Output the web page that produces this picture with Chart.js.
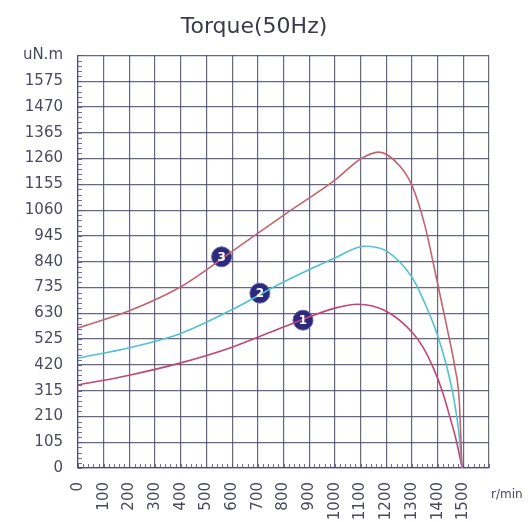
<!DOCTYPE html>
<html>
<head>
<meta charset="utf-8">
<script src="https://cdn.jsdelivr.net/npm/chart.js@4.4.1/dist/chart.umd.min.js"></script>
<style>
    html, body { margin: 0; padding: 0; background: #ffffff; }
    #wrap { width: 528px; height: 522px; position: relative; }
</style>
</head>
<body>
<div id="wrap"><canvas id="torquechart"></canvas></div>
<script>
// data
var rpm3 = [0, 200, 400, 600, 800, 1000, 1100, 1170, 1250, 1300, 1350, 1397, 1441, 1467, 1484, 1495];
var torque3 = [570, 640, 738, 882, 1029, 1172, 1258, 1286, 1233, 1151, 989, 765, 549, 411, 277, 0];

var rpm2 = [0, 200, 400, 600, 800, 1000, 1115, 1200, 1300, 1345, 1397, 1436, 1464, 1483, 1495];
var torque2 = [448, 490, 548, 645, 757, 855, 903, 884, 777, 683, 549, 411, 277, 142, 0];

var rpm1 = [0, 200, 400, 600, 800, 1000, 1090, 1200, 1304, 1343, 1382, 1417, 1448, 1475, 1495];
var torque1 = [338, 378, 428, 492, 574, 651, 667, 638, 549, 492, 411, 317, 207, 102, 0];

var markerRpm = [559, 708, 876];
var markerTorque = [860, 712, 602];
var markerLabels = ['3', '2', '1'];

var yTickLabels = ['0', '105', '210', '315', '420', '525', '630', '735', '840', '945', '1060', '1155', '1260', '1365', '1470', '1575', 'uN.m'];
var xTickLabels = ['0', '100', '200', '300', '400', '500', '600', '700', '800', '900', '1000', '1100', '1200', '1300', '1400', '1500', ''];

function toPoints(xs, ys) {
    return xs.map(function (x, i) { return { x: x, y: ys[i] }; });
}

var gridColor = 'rgba(70, 68, 115, 0.82)';

// small ticks along the left and bottom axis + marker numbers + unit label
var extras = {
    id: 'extras',
    beforeDatasetsDraw: function (chart) {
        var c = chart.ctx, xs = chart.scales.x, ys = chart.scales.y;
        c.save();
        c.strokeStyle = 'rgba(80, 76, 130, 0.8)';
        c.lineWidth = 1;
        c.beginPath();
        for (var v = 0; v <= 1680; v += 21) {
            var py = Math.round(ys.getPixelForValue(v)) + 0.5;
            c.moveTo(xs.left, py);
            c.lineTo(xs.left + 4, py);
        }
        for (var r = 0; r <= 1600; r += 20) {
            var px = Math.round(xs.getPixelForValue(r)) + 0.5;
            c.moveTo(px, ys.bottom);
            c.lineTo(px, ys.bottom - 4);
        }
        c.stroke();
        c.restore();
    },
    afterDatasetsDraw: function (chart) {
        var c = chart.ctx;
        var meta = chart.getDatasetMeta(3);
        c.save();
        c.fillStyle = '#ffffff';
        c.font = 'bold 12px "DejaVu Sans"';
        c.textAlign = 'center';
        c.textBaseline = 'middle';
        meta.data.forEach(function (pt, i) {
            c.fillText(markerLabels[i], pt.x, pt.y + 1);
        });
        c.fillStyle = '#4a4a5e';
        c.font = '12px "DejaVu Sans"';
        c.textAlign = 'left';
        c.fillText('r/min', chart.chartArea.right + 2, 495);
        c.restore();
    }
};

var ctx = document.getElementById('torquechart').getContext('2d');
var torquechart = new Chart(ctx, {
    type: 'line',
    data: {
        datasets: [
            {
                label: '3',
                data: toPoints(rpm3, torque3),
                borderColor: '#c4646c',
                borderWidth: 1.6,
                pointRadius: 0,
                cubicInterpolationMode: 'monotone'
            },
            {
                label: '2',
                data: toPoints(rpm2, torque2),
                borderColor: '#4fc2d4',
                borderWidth: 1.6,
                pointRadius: 0,
                cubicInterpolationMode: 'monotone'
            },
            {
                label: '1',
                data: toPoints(rpm1, torque1),
                borderColor: '#c44476',
                borderWidth: 1.6,
                pointRadius: 0,
                cubicInterpolationMode: 'monotone'
            },
            {
                label: 'markers',
                data: toPoints(markerRpm, markerTorque),
                showLine: false,
                pointRadius: 10,
                pointBackgroundColor: '#2c2a7c',
                pointBorderColor: '#6462ae',
                pointBorderWidth: 1
            }
        ]
    },
    options: {
        responsive: true,
        maintainAspectRatio: false,
        animation: false,
        layout: {
            padding: { left: 0, right: 20, top: 0, bottom: 0 }
        },
        plugins: {
            legend: { display: false },
            tooltip: { enabled: false },
            title: {
                display: true,
                text: 'Torque(50Hz)',
                color: '#3a3a48',
                font: { family: '"DejaVu Sans"', size: 22, weight: 'normal' },
                padding: { top: 14, bottom: 15 }
            }
        },
        scales: {
            x: {
                type: 'linear',
                min: 0,
                max: 1600,
                afterFit: function (scale) { scale.height = 54; },
                grid: { color: gridColor, lineWidth: 1.2, drawTicks: false },
                border: { color: gridColor, width: 1.2 },
                ticks: {
                    stepSize: 100,
                    autoSkip: false,
                    minRotation: 90,
                    maxRotation: 90,
                    padding: 14,
                    color: '#4a4a5e',
                    font: { family: '"DejaVu Sans"', size: 15 },
                    callback: function (value) {
                        return xTickLabels[Math.round(value / 100)];
                    }
                }
            },
            y: {
                type: 'linear',
                min: 0,
                max: 1680,
                afterFit: function (scale) { scale.width = 78; },
                grid: { color: gridColor, lineWidth: 1.2, drawTicks: false },
                border: { color: gridColor, width: 1.2 },
                ticks: {
                    stepSize: 105,
                    autoSkip: false,
                    padding: 15,
                    color: '#4a4a5e',
                    font: { family: '"DejaVu Sans"', size: 15 },
                    callback: function (value) {
                        return yTickLabels[Math.round(value / 105)];
                    }
                }
            },
            // empty strip on the right so the title sits where it does in the picture
            yRight: {
                type: 'linear',
                position: 'right',
                min: 0,
                max: 1680,
                afterFit: function (scale) { scale.width = 19; },
                grid: { display: false, drawTicks: false },
                border: { display: false },
                ticks: { display: false }
            }
        }
    },
    plugins: [extras]
});
</script>
</body>
</html>
